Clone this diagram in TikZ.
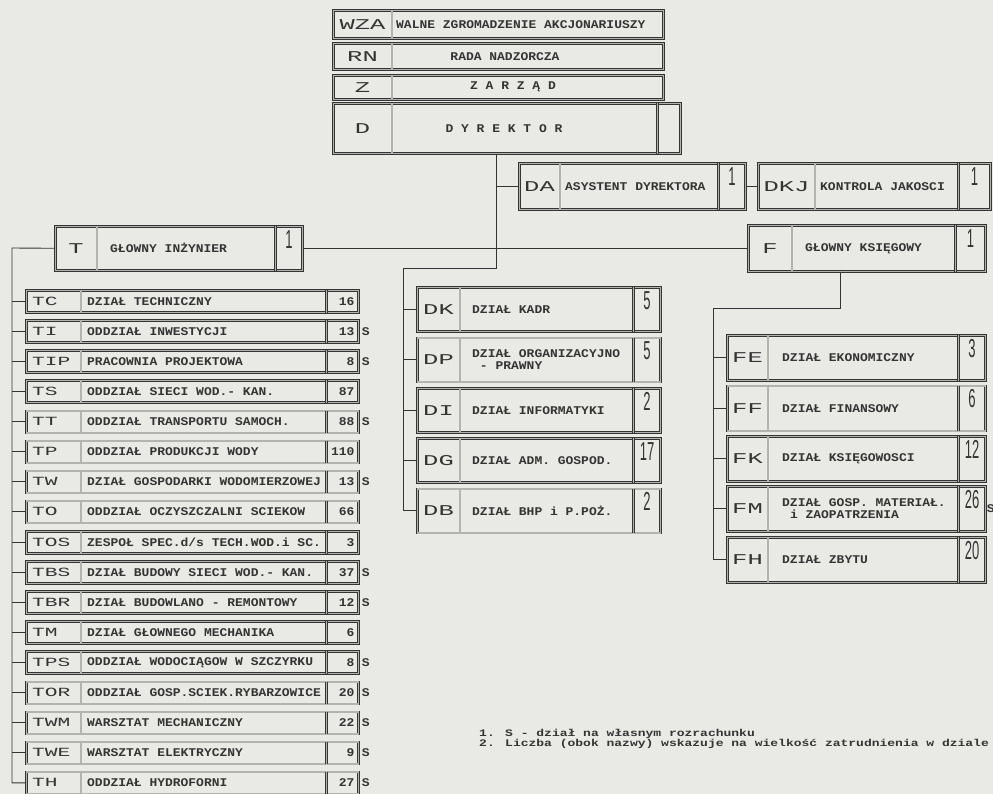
\documentclass[tikz,border=0pt]{standalone}
\usepackage{fontspec}
\newfontfamily\namefont[FakeStretch=1.1]{Liberation Mono}
\newfontfamily\codefont[FakeStretch=1.7]{Liberation Mono}
\newfontfamily\numfont[FakeStretch=0.5]{Liberation Sans}
\newfontfamily\notefont[FakeStretch=1.3]{Liberation Mono}
\usetikzlibrary{positioning}
\definecolor{paper}{RGB}{233,233,229}
\definecolor{ink}{RGB}{52,52,52}
\tikzset{
  unit/.style = {rectangle, draw=ink, double=paper!70!ink, double distance=1.4pt, line width=0.6pt, fill=paper, inner sep=0pt},
  sep/.style = {draw=ink, double=paper!70!ink, double distance=1.2pt, line width=0.6pt},
  bus/.style = {draw=ink, line width=0.9pt},
  code/.style = {font={\codefont\fontsize{12.5}{12.5}\selectfont}, text=ink, inner sep=0pt},
  bigcode/.style = {font={\codefont\fontsize{15}{15}\selectfont}, text=ink, inner sep=0pt},
  txt/.style = {font={\namefont\bfseries\fontsize{11.8}{12}\selectfont}, text=ink, anchor=west, inner sep=0pt, align=left},
  cnt/.style = {font={\namefont\bfseries\fontsize{11.8}{11.8}\selectfont}, text=ink, anchor=east, inner sep=0pt},
  tall/.style = {font={\numfont\fontsize{26}{26}\selectfont}, text=ink, anchor=north, inner sep=0pt},
  sflag/.style = {font={\namefont\bfseries\fontsize{11.8}{11.8}\selectfont}, text=ink, inner sep=0pt},
  note/.style = {font={\notefont\bfseries\fontsize{10}{8.5}\selectfont}, text=ink, anchor=west, inner sep=0pt, align=left}
}
% box with a code cell on the left
\newcommand{\unitbox}[6]{% name, top-left, width, height, code cell width, code
  \node[unit, minimum width=#3, minimum height=#4, anchor=north west] (#1) at (#2) {};
  \coordinate (#1-c) at ([xshift=#5]#1.west);
  \draw[sep] ([xshift=#5]#1.north west) -- ([xshift=#5]#1.south west);
  \node[bigcode] at ([xshift=#5/2]#1.west) {#6};
}
% number cell on the right, tall digits at the top
\newcommand{\tallnum}[3]{% box, cell width, number
  \draw[sep] ([xshift=-#2]#1.north east) -- ([xshift=-#2]#1.south east);
  \node[tall] at ([xshift=-#2/2, yshift=-4]#1.north east) {#3};
}
% one line of the list under the chief engineer
\newcommand{\deptrow}[6]{% name, top y, code, text, staff, flag
  \node[unit, minimum width=332, minimum height=22, anchor=north west] (#1) at (26,#2) {};
  \draw[sep] ([xshift=55]#1.north west) -- ([xshift=55]#1.south west);
  \draw[sep] ([xshift=-32]#1.north east) -- ([xshift=-32]#1.south east);
  \node[code, anchor=west] at ([xshift=6]#1.west) {#3};
  \node[txt] at ([xshift=61]#1.west) {#4};
  \node[cnt] at ([xshift=-4]#1.east) {#5};
  \node[sflag, right=3pt of #1] {#6};
}

\begin{document}
\begin{tikzpicture}[x=1pt, y=-1pt]
\useasboundingbox (0,0) rectangle (993,794);
\fill[paper] (0,0) rectangle (993,794);

% Top of the company
\unitbox{WZA}{333,10}{330}{28}{59}{WZA}
\node[txt, right=4pt of WZA-c] {WALNE ZGROMADZENIE AKCJONARIUSZY};
\unitbox{RN}{333,43}{330}{26}{59}{RN}
\node[txt, anchor=center] at ([xshift=113]RN-c) {RADA NADZORCZA};
\unitbox{Z}{333,75}{330}{24}{59}{Z}
\node[txt, anchor=center] at ([xshift=121]Z-c) {Z A R Z Ą D};
\unitbox{D}{333,103}{347}{50}{59}{D}
\tallnum{D}{23}{}
\node[txt, anchor=center] at ([xshift=112]D-c) {D Y R E K T O R};

% Assistant, quality control, chief accountant
\unitbox{DA}{519,163}{226}{46}{41}{DA}
\tallnum{DA}{27}{1}
\node[txt, right=5pt of DA-c] {ASYSTENT DYREKTORA};
\unitbox{DKJ}{758,163}{232}{46}{57}{DKJ}
\tallnum{DKJ}{32}{1}
\node[txt, right=5pt of DKJ-c] {KONTROLA JAKOSCI};
\unitbox{F}{748,225}{237}{46}{44}{F}
\tallnum{F}{30}{1}
\node[txt, right=13pt of F-c] {GŁOWNY KSIĘGOWY};

% Chief engineer
\unitbox{T}{55,226}{247}{44}{42}{T}
\tallnum{T}{27}{1}
\node[txt, right=13pt of T-c] {GŁOWNY INŻYNIER};

% Departments under the director
\unitbox{dk}{417,287}{243}{44}{43}{DK}
\tallnum{dk}{27}{5}
\node[txt, right=12pt of dk-c] {DZIAŁ KADR};
\unitbox{dp}{417,337.5}{243}{44}{43}{DP}
\tallnum{dp}{27}{5}
\node[txt, right=12pt of dp-c] {DZIAŁ ORGANIZACYJNO\\\phantom{D}- PRAWNY};
\unitbox{di}{417,388}{243}{44}{43}{DI}
\tallnum{di}{27}{2}
\node[txt, right=12pt of di-c] {DZIAŁ INFORMATYKI};
\unitbox{dg}{417,438}{243}{44}{43}{DG}
\tallnum{dg}{27}{17}
\node[txt, right=12pt of dg-c] {DZIAŁ ADM. GOSPOD.};
\unitbox{db}{417,488.5}{243}{44}{43}{DB}
\tallnum{db}{27}{2}
\node[txt, right=12pt of db-c] {DZIAŁ BHP i P.POŻ.};

% Departments under the chief accountant
\unitbox{fe}{727,335}{258}{45}{41}{FE}
\tallnum{fe}{27}{3}
\node[txt, right=14pt of fe-c] {DZIAŁ EKONOMICZNY};
\unitbox{ff}{727,385.5}{258}{45}{41}{FF}
\tallnum{ff}{27}{6}
\node[txt, right=14pt of ff-c] {DZIAŁ FINANSOWY};
\unitbox{fk}{727,436}{258}{45}{41}{FK}
\tallnum{fk}{27}{12}
\node[txt, right=14pt of fk-c] {DZIAŁ KSIĘGOWOSCI};
\unitbox{fm}{727,486}{258}{45}{41}{FM}
\tallnum{fm}{27}{26}
\node[txt, right=14pt of fm-c] {DZIAŁ GOSP. MATERIAŁ.\\\phantom{D}i ZAOPATRZENIA};
\node[sflag, right=1pt of fm] {S};
\unitbox{fh}{727,537}{258}{45}{41}{FH}
\tallnum{fh}{27}{20}
\node[txt, right=14pt of fh-c] {DZIAŁ ZBYTU};

% Departments under the chief engineer
\deptrow{tc}{290}{TC}{DZIAŁ TECHNICZNY}{16}{}
\deptrow{ti}{320}{TI}{ODDZIAŁ INWESTYCJI}{13}{S}
\deptrow{tip}{350}{TIP}{PRACOWNIA PROJEKTOWA}{8}{S}
\deptrow{ts}{380}{TS}{ODDZIAŁ SIECI WOD.- KAN.}{87}{}
\deptrow{tt}{410.5}{TT}{ODDZIAŁ TRANSPORTU SAMOCH.}{88}{S}
\deptrow{tp}{440.5}{TP}{ODDZIAŁ PRODUKCJI WODY}{110}{}
\deptrow{tw}{470.5}{TW}{DZIAŁ GOSPODARKI WODOMIERZOWEJ}{13}{S}
\deptrow{to}{500.5}{TO}{ODDZIAŁ OCZYSZCZALNI SCIEKOW}{66}{}
\deptrow{tos}{531}{TOS}{ZESPOŁ SPEC.d/s TECH.WOD.i SC.}{3}{}
\deptrow{tbs}{561}{TBS}{DZIAŁ BUDOWY SIECI WOD.- KAN.}{37}{S}
\deptrow{tbr}{591}{TBR}{DZIAŁ BUDOWLANO - REMONTOWY}{12}{S}
\deptrow{tm}{621}{TM}{DZIAŁ GŁOWNEGO MECHANIKA}{6}{}
\deptrow{tps}{651}{TPS}{ODDZIAŁ WODOCIĄGOW W SZCZYRKU}{8}{S}
\deptrow{tor}{681.5}{TOR}{ODDZIAŁ GOSP.SCIEK.RYBARZOWICE}{20}{S}
\deptrow{twm}{711.5}{TWM}{WARSZTAT MECHANICZNY}{22}{S}
\deptrow{twe}{741.5}{TWE}{WARSZTAT ELEKTRYCZNY}{9}{S}
\deptrow{th}{771.5}{TH}{ODDZIAŁ HYDROFORNI}{27}{S}

% ----- LINES -----
\coordinate (dj) at (496,268);
\coordinate (dbus) at (403,268);
\coordinate (fj) at (840,308);
\coordinate (fbus) at (713,308);
\coordinate (tbus) at (12,248);
% director down to his departments
\draw[bus] (D.south -| dj) -- (dj) -- (dbus) |- (db.west);
\draw[bus] (DA.west) -- (DA.west -| dj);
\draw[bus] (DA.east) -- (DKJ.west);
\draw[bus] (T.east) -- (F.west);
\draw[bus] (dk.west) -- (dk.west -| dbus);
\draw[bus] (dp.west) -- (dp.west -| dbus);
\draw[bus] (di.west) -- (di.west -| dbus);
\draw[bus] (dg.west) -- (dg.west -| dbus);
% chief accountant
\draw[bus] (F.south -| fj) -- (fj) -- (fbus) |- (fh.west);
\draw[bus] (fe.west) -- (fe.west -| fbus);
\draw[bus] (ff.west) -- (ff.west -| fbus);
\draw[bus] (fk.west) -- (fk.west -| fbus);
\draw[bus] (fm.west) -- (fm.west -| fbus);
% chief engineer
\draw[bus] (T.west) -- (tbus) |- (th.west);
\draw[bus] (tc.west) -- (tc.west -| tbus);
\draw[bus] (ti.west) -- (ti.west -| tbus);
\draw[bus] (tip.west) -- (tip.west -| tbus);
\draw[bus] (ts.west) -- (ts.west -| tbus);
\draw[bus] (tt.west) -- (tt.west -| tbus);
\draw[bus] (tp.west) -- (tp.west -| tbus);
\draw[bus] (tw.west) -- (tw.west -| tbus);
\draw[bus] (to.west) -- (to.west -| tbus);
\draw[bus] (tos.west) -- (tos.west -| tbus);
\draw[bus] (tbs.west) -- (tbs.west -| tbus);
\draw[bus] (tbr.west) -- (tbr.west -| tbus);
\draw[bus] (tm.west) -- (tm.west -| tbus);
\draw[bus] (tps.west) -- (tps.west -| tbus);
\draw[bus] (tor.west) -- (tor.west -| tbus);
\draw[bus] (twm.west) -- (twm.west -| tbus);
\draw[bus] (twe.west) -- (twe.west -| tbus);

% Notes
\node[note] (notes) at (479,739) {1. S - dział na własnym rozrachunku\\2. Liczba (obok nazwy) wskazuje na wielkość zatrudnienia w dziale};

\end{tikzpicture}
\end{document}
